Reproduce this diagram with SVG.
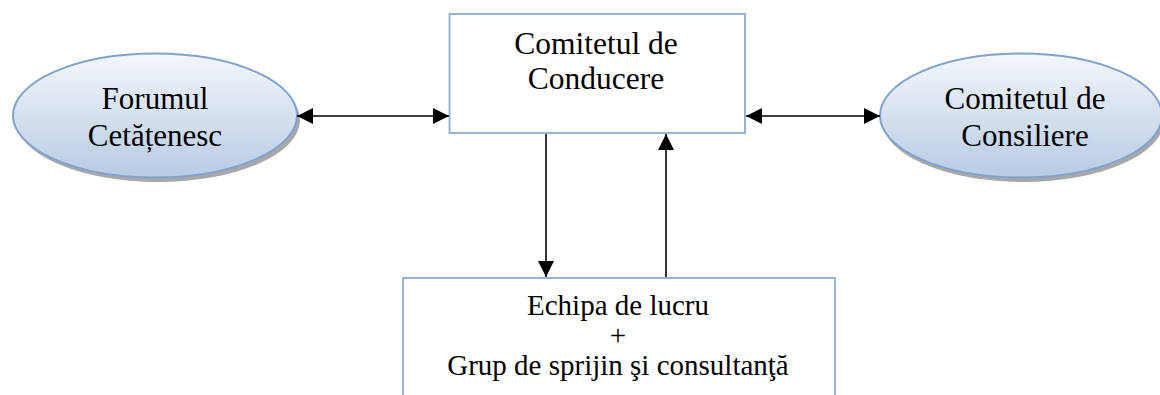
<svg xmlns="http://www.w3.org/2000/svg" width="1160" height="395" viewBox="0 0 1160 395">
  <defs>
    <linearGradient id="ellFill" x1="0" y1="0" x2="0" y2="1">
      <stop offset="0" stop-color="#f4f7fb"/>
      <stop offset="1" stop-color="#b7cbe4"/>
    </linearGradient>
    <marker id="arr" viewBox="0 0 16 16" refX="16" refY="8" markerWidth="16" markerHeight="16" markerUnits="userSpaceOnUse" orient="auto-start-reverse">
      <path d="M0,0 L16,8 L0,16 Z" fill="#000"/>
    </marker>
    <style>
      .txt { font-family: "Liberation Serif", "Times New Roman", serif; fill: #000; text-anchor: middle; }
      .ell { fill: url(#ellFill); stroke: #7fa2cf; stroke-width: 2; }
      .shadow { fill: #a8a8a8; }
      .box { fill: #fff; stroke: #95b3d7; stroke-width: 2; }
      .conn { stroke: #000; stroke-width: 1.6; fill: none; }
    </style>
  </defs>
  <rect width="1160" height="395" fill="#fff"/>

  <g id="forumul">
    <ellipse class="shadow" cx="158" cy="120" rx="142" ry="62"/>
    <ellipse class="ell" cx="155" cy="115.5" rx="142" ry="62"/>
    <text class="txt" x="155" y="109" font-size="31">Forumul</text>
    <text class="txt" x="155" y="146" font-size="31">Cetățenesc</text>
  </g>

  <g id="comitetul-consiliere">
    <ellipse class="shadow" cx="1023" cy="120" rx="141" ry="62"/>
    <ellipse class="ell" cx="1021" cy="115.5" rx="141" ry="62"/>
    <text class="txt" x="1025" y="109" font-size="31">Comitetul de</text>
    <text class="txt" x="1025" y="146" font-size="31">Consiliere</text>
  </g>

  <g id="comitetul-conducere">
    <rect class="box" x="449.5" y="14" width="295.5" height="119"/>
    <text class="txt" x="596" y="54" font-size="31.5">Comitetul de</text>
    <text class="txt" x="596" y="89" font-size="31.5">Conducere</text>
  </g>

  <g id="echipa">
    <rect class="box" x="403" y="278" width="432" height="130"/>
    <text class="txt" x="618" y="315" font-size="29">Echipa de lucru</text>
    <text class="txt" x="618" y="345" font-size="29">+</text>
    <text class="txt" x="618" y="375" font-size="29">Grup de sprijin şi consultanţă</text>
  </g>

  <g id="connectors">
    <line class="conn" x1="297" y1="116" x2="449" y2="116" marker-start="url(#arr)" marker-end="url(#arr)"/>
    <line class="conn" x1="746" y1="116" x2="880" y2="116" marker-start="url(#arr)" marker-end="url(#arr)"/>
    <line class="conn" x1="546" y1="134" x2="546" y2="277" marker-end="url(#arr)"/>
    <line class="conn" x1="666" y1="277" x2="666" y2="134" marker-end="url(#arr)"/>
  </g>
</svg>
